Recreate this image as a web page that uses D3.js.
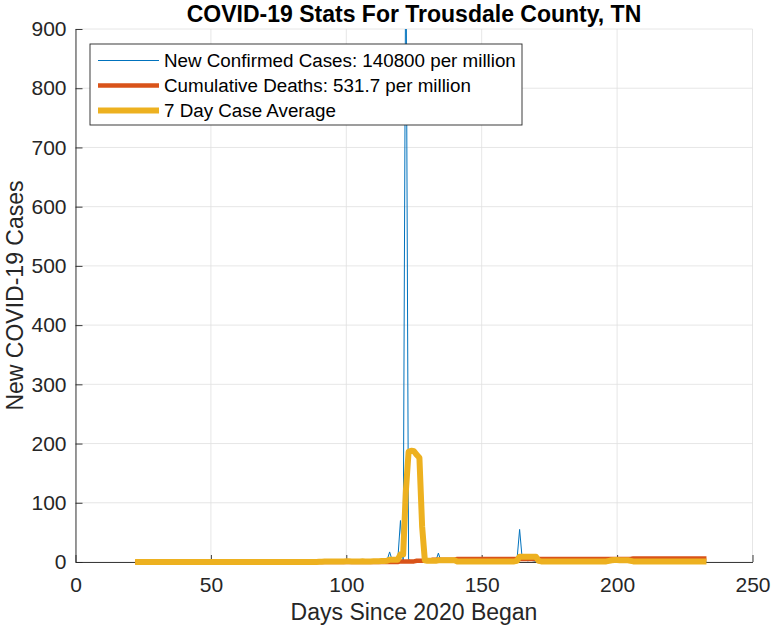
<!DOCTYPE html>
<html>
<head>
<meta charset="utf-8">
<script src="https://cdn.jsdelivr.net/npm/d3@7"></script>
<style>
  body { margin: 0; background: #fff; }
  text { font-family: "Liberation Sans", Arial, Helvetica, sans-serif; fill: #262626; }
</style>
</head>
<body>
<div id="chart"></div>
<script>
//first day of the series (days since 2020 began)
var firstDay = 22;

//new confirmed cases per day, day 22 .. 233
var newCases = [
  0,0,0,0,0,0,0,0,0,0,0,0,0,0,0,0,0,0,0,0,
  0,0,0,0,0,0,0,0,0,0,0,0,0,0,0,0,0,0,0,0,
  0,0,0,0,0,0,0,0,0,0,0,0,0,0,0,0,0,0,0,0,
  0,0,0,0,0,0,0,1,
  1,0,2,1,0,1,2,1,0,1,1,2,0,1,1,0,2,1,1,0,
  2,1,1,2,3,2,
  17,2,1,3,70,2,1100,4,2,1,3,2,1,2,1,0,2,1,15,1,
  1,2,0,1,1,0,1,2,0,1,1,0,1,1,2,0,1,1,0,1,
  1,2,0,1,1,0,1,2,
  55,3,4,2,3,2,1,0,1,2,1,0,1,1,2,0,1,1,0,1,
  2,1,1,0,1,2,1,0,1,1,2,0,1,2,
  6,3,4,2,3,5,2,1,0,1,2,1,0,1,1,0,1,2,1,0,
  1,1,0,2,1,0,1,1,2,0,1,1,0,1,0,1
];

//cumulative deaths, day 22 .. 233
var cumDeaths = [
  0,0,0,0,0,0,0,0,0,0,0,0,0,0,0,0,0,0,0,0,
  0,0,0,0,0,0,0,0,0,0,0,0,0,0,0,0,0,0,0,0,
  0,0,0,0,0,0,0,0,0,0,0,0,0,0,0,0,0,0,0,0,
  0,0,0,0,0,0,0,0,0,0,0,0,0,0,0,0,0,0,0,0,
  0,0,0,0,0,0,0,0,0,0,0,0,0,0,0,0,0,0,
  1,1,1,1,1,1,
  2,2,2,2,2,2,
  4,4,4,4,4,4,4,4,4,
  5,5,5,5,5,5,5,5,5,5,5,5,5,5,5,5,5,5,5,5,
  5,5,5,5,5,5,5,5,5,5,5,5,5,5,5,5,5,5,5,5,
  5,5,5,5,5,5,5,5,5,5,5,5,5,5,5,5,5,5,5,5,
  5,5,5,5,5,
  6,6,6,6,6,6,6,6,6,6,6,6,6,6,6,6,6,6,6,6,
  6,6,6,6,6,6,6,6
];

//7 day case average, day 22 .. 233
var weekAverage = [
  0,0,0,0,0,0,0,0,0,0,0,0,0,0,0,0,0,0,0,0,
  0,0,0,0,0,0,0,0,0,0,0,0,0,0,0,0,0,0,0,0,
  0,0,0,0,0,0,0,0,0,0,0,0,0,0,0,0,0,0,0,0,
  0,0,0,0,0,0,0,0,
  0.5,0.5,0.8,0.8,0.8,0.9,1,1,1,1,1.1,1.1,1,1,1,1,1.1,1,1,1,
  1.1,1.2,1.3,1.5,1.7,2,
  4,4,4,4,13,13,120,186,188,187,181,176,60,3,2,2,2,2,3,3,
  3,3,3,3,3,1,1,1,1,1,1,1,1,1,1,1,1,1,1,1,
  1,1,1,1,1,1,1,2,
  9,9,9,9,9,9,9,2,1,1,1,1,1,1,1,1,1,1,1,1,
  1,1,1,1,1,1,1,1,1,1,1,1,1,2,
  3,3.5,3.5,3,3,3,3,2,1,1,1,1,1,1,1,1,1,1,1,1,
  1,1,1,1,1,1,1,1,1,1,1,1,1,1,1,1
];

var xTicks = [0, 50, 100, 150, 200, 250];
var yTicks = [0, 100, 200, 300, 400, 500, 600, 700, 800, 900];

var legendLabels = [
  "New Confirmed Cases: 140800 per million",
  "Cumulative Deaths: 531.7 per million",
  "7 Day Case Average"
];
var seriesColors = ["#0072BD", "#D95319", "#EDB120"];
var seriesWidths = [1, 4.5, 6];

//define outer size and margins
var outerWidth = 772;
var outerHeight = 630;
var margin = { top: 29, right: 19.5, bottom: 68, left: 75.5 };
var innerWidth = outerWidth - (margin.left + margin.right);
var innerHeight = outerHeight - (margin.top + margin.bottom);

var svg = d3
  .select("#chart")
  .append("svg")
  .attr("width", outerWidth)
  .attr("height", outerHeight);

var g = svg
  .append("g")
  .attr("transform", "translate(" + margin.left + "," + margin.top + ")");

//scales
var xScale = d3.scaleLinear().domain([0, 250]).range([0, innerWidth]);
var yScale = d3.scaleLinear().domain([0, 900]).range([innerHeight, 0]);

//grid lines
g.append("g")
  .selectAll("line")
  .data(xTicks)
  .enter()
  .append("line")
  .attr("x1", d => xScale(d))
  .attr("x2", d => xScale(d))
  .attr("y1", 0)
  .attr("y2", innerHeight)
  .style("stroke", "#dfdfdf")
  .style("stroke-width", 0.8);

g.append("g")
  .selectAll("line")
  .data(yTicks)
  .enter()
  .append("line")
  .attr("x1", 0)
  .attr("x2", innerWidth)
  .attr("y1", d => yScale(d))
  .attr("y2", d => yScale(d))
  .style("stroke", "#dfdfdf")
  .style("stroke-width", 0.8);

//axes, ticks pointing inward
var xAxis = d3
  .axisBottom(xScale)
  .tickValues(xTicks)
  .tickSizeInner(-7)
  .tickSizeOuter(0)
  .tickPadding(15);

var yAxis = d3
  .axisLeft(yScale)
  .tickValues(yTicks)
  .tickSizeInner(-7)
  .tickSizeOuter(0)
  .tickPadding(9);

var gx = g
  .append("g")
  .attr("class", "x axis")
  .attr("transform", "translate(0," + innerHeight + ")")
  .call(xAxis);

var gy = g
  .append("g")
  .attr("class", "y axis")
  .call(yAxis);

[gx, gy].forEach(function(ax) {
  ax.attr("font-size", null).attr("font-family", null);
  ax.selectAll("path, line").style("stroke", "#262626").style("stroke-width", 0.9);
  ax.selectAll("text")
    .style("font-size", "21px")
    .style("fill", "#262626");
});

//clip data to the axes (stroke may bleed a little below zero)
svg
  .append("defs")
  .append("clipPath")
  .attr("id", "plotClip")
  .append("rect")
  .attr("x", 0)
  .attr("y", 0)
  .attr("width", innerWidth)
  .attr("height", innerHeight + 10);

var line = d3
  .line()
  .x((d, i) => xScale(firstDay + i))
  .y(d => yScale(d));

var plot = g.append("g").attr("clip-path", "url(#plotClip)");

[newCases, cumDeaths, weekAverage].forEach(function(series, k) {
  plot
    .append("path")
    .datum(series)
    .attr("d", line)
    .style("fill", "none")
    .style("stroke", seriesColors[k])
    .style("stroke-width", seriesWidths[k])
    .style("stroke-linejoin", "round");
});

//title
svg
  .append("text")
  .attr("x", margin.left + innerWidth / 2)
  .attr("y", 22)
  .attr("text-anchor", "middle")
  .style("font-size", "23px")
  .style("font-weight", "bold")
  .style("fill", "#000")
  .text("COVID-19 Stats For Trousdale County, TN");

//axis labels
svg
  .append("text")
  .attr("x", margin.left + innerWidth / 2)
  .attr("y", 620)
  .attr("text-anchor", "middle")
  .style("font-size", "23px")
  .text("Days Since 2020 Began");

svg
  .append("text")
  .attr("transform", "translate(23," + (margin.top + innerHeight / 2) + ") rotate(-90)")
  .attr("text-anchor", "middle")
  .style("font-size", "23px")
  .text("New COVID-19 Cases");

//legend
var legend = svg.append("g").attr("transform", "translate(90,44)");

legend
  .append("rect")
  .attr("width", 432)
  .attr("height", 81)
  .style("fill", "#fff")
  .style("stroke", "#262626")
  .style("stroke-width", 0.9);

legendLabels.forEach(function(label, k) {
  var yRow = 16.5 + k * 25;
  legend
    .append("line")
    .attr("x1", 8)
    .attr("x2", 69)
    .attr("y1", yRow)
    .attr("y2", yRow)
    .style("stroke", seriesColors[k])
    .style("stroke-width", seriesWidths[k]);

  legend
    .append("text")
    .attr("x", 74)
    .attr("y", yRow + 6.5)
    .style("font-size", "18.8px")
    .style("fill", "#000")
    .text(label);
});
</script>
</body>
</html>
